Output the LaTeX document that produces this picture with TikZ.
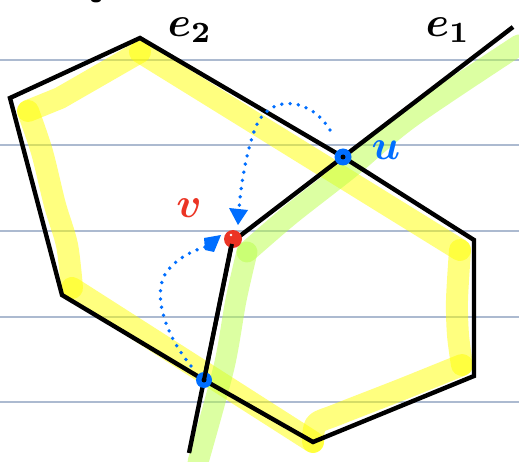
\documentclass[tikz,border=0pt]{standalone}
\usetikzlibrary{arrows.meta}
\definecolor{rulec}{RGB}{172,186,208}
\definecolor{hlyellow}{RGB}{255,255,0}
\definecolor{hlgreen}{RGB}{185,255,70}
\definecolor{pblue}{RGB}{0,110,255}
\definecolor{pred}{RGB}{235,52,36}
\tikzset{
  rule/.style={draw=rulec, line width=1.2pt},
  hly/.style={draw=hlyellow, draw opacity=0.5, line width=22pt, line cap=round, line join=round},
  hlg/.style={draw=hlgreen, draw opacity=0.5, line width=21pt, line cap=round, line join=round},
  edge/.style={draw=black, line width=4.4pt, line join=miter},
  dotarrow/.style={draw=pblue, line width=3.8pt, line cap=round, dash pattern=on 0pt off 8.3pt},
  lab/.style={scale=4.2, inner sep=0pt, font=\boldmath},
}
\begin{document}
\begin{tikzpicture}[x=1pt,y=-1pt]
\useasboundingbox (0,0) rectangle (519,462);
% ruled paper lines
\foreach \yy in {60,145,231,317,402} \draw[rule] (0,\yy) -- (519,\yy);
% coordinates
\coordinate (A) at (140,38);
\coordinate (B) at (10,98);
\coordinate (C) at (62,295);
\coordinate (D) at (313,442);
\coordinate (E) at (474,376);
\coordinate (F) at (474,240);
\coordinate (u) at (343,157);
\coordinate (v) at (232,242);
\coordinate (w) at (204,380);
\coordinate (T) at (513,27);
\coordinate (S) at (189,453);
% yellow highlight
\draw[hly] (140,52) -- (60,98) -- (28,111);
\draw[hly] plot[smooth] coordinates {(28,111) (42,152) (55,205) (67,245) (72,288)};
\draw[hly] (72,288) -- (313,442);
\draw[hly] plot[smooth] coordinates {(313,442) (316,424) (336,415) (400,390) (462,365)};
\draw[hly] plot[smooth] coordinates {(462,365) (458,335) (457,300) (460,250)};
\draw[hly] (460,250) -- (140,52);
% green highlight
\draw[hlg] plot[smooth] coordinates {(519,45) (410,118) (350,168) (290,215) (247,252)};
\draw[hlg] plot[smooth] coordinates {(247,252) (236,300) (224,367) (198,462)};
% black edges
\draw[edge] (A) -- (u) -- (F) -- (E) -- (D) -- (w) -- (C) -- (B) -- cycle;
\draw[edge] (T) -- (u) -- (v) -- (w) -- (S);
% stray mark at top
\fill[black] (96,-2) ellipse (6 and 4.5);
% dotted arrows
\draw[dotarrow] (330,130) .. controls (312,100) and (275,93) .. (258,122) .. controls (249,140) and (241,180) .. (239,210);
\draw[dotarrow] (191,366) .. controls (166,336) and (150,292) .. (168,270) .. controls (178,258) and (192,251) .. (205,247);
\fill[pblue] (229,208) -- (248,210) -- (238,225) -- cycle;
\fill[pblue] (204,238) -- (221,235) -- (214,252) -- (205,250) -- cycle;
% vertices
\fill[pblue] (u) circle (8.5pt);
\fill[black] (u) circle (2.5pt);
\fill[pblue] (w) circle (8pt);
\fill[black] (w) circle (2.5pt);
\fill[pred] (233,239) circle (9pt);
\draw[black, line width=4pt] (232,244) -- (w);
\fill[white] (231,235) circle (1.3pt);
% labels
\node[lab] (le2) at (190,30) {$e_2$};
\node[lab] (le1) at (448,30) {$e_1$};
\node[lab, text=pblue] (lu) at (386,150) {$u$};
\node[lab, text=pred] (lv) at (189,208) {$v$};
\end{tikzpicture}
\end{document}
